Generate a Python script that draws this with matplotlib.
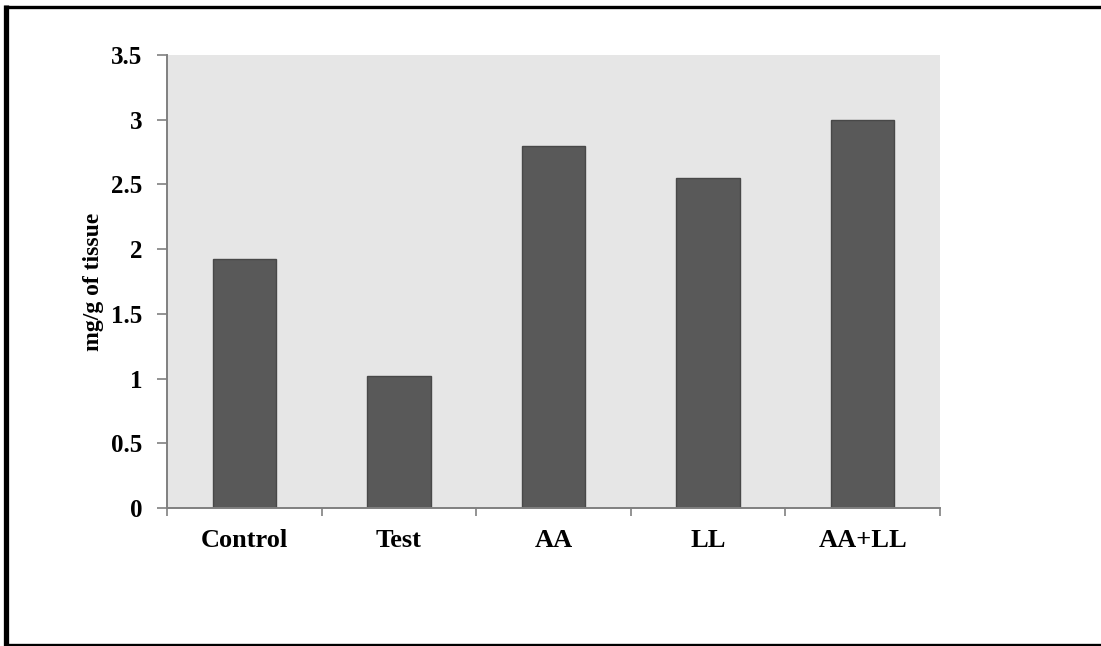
import numpy as np
import matplotlib.pyplot as plt
from matplotlib.lines import Line2D

groups = ["Control", "Test", "AA", "LL", "AA+LL"]
values = [1.92, 1.02, 2.80, 2.55, 3.00]
yticks = [0, 0.5, 1, 1.5, 2, 2.5, 3, 3.5]
ytick_labels = ["0", "0.5", "1", "1.5", "2", "2.5", "3", "3.5"]

plt.rcParams["font.family"] = ["Liberation Serif", "DejaVu Serif"]
plt.rcParams["font.weight"] = "bold"

fig = plt.figure(figsize=(11.01, 6.46), dpi=100)
ax = fig.add_axes([0.1517, 0.2136, 0.7021, 0.7013])

x = np.arange(len(groups))
ax.bar(x, values, width=0.41, color="#595959", edgecolor="#484848", linewidth=1.0)

ax.set_facecolor("#e6e6e6")
ax.set_xlim(-0.5, len(groups) - 0.5)
ax.set_ylim(0, 3.5)

# category boundaries carry the tick marks, labels sit at the centres
ax.set_xticks(np.arange(len(groups) + 1) - 0.5)
ax.set_xticklabels([])
ax.set_xticks(x, minor=True)
ax.set_xticklabels(groups, minor=True, fontsize=19, fontweight="bold")
ax.tick_params(axis="x", which="minor", length=0, pad=15)
ax.tick_params(axis="x", which="major", length=6, width=1.2, color="#808080")

ax.set_yticks(yticks)
ax.set_yticklabels(ytick_labels, fontsize=18, fontweight="bold")
ax.tick_params(axis="y", length=7, width=1.2, color="#808080", pad=11)

for side in ("top", "right"):
    ax.spines[side].set_visible(False)
for side in ("left", "bottom"):
    ax.spines[side].set_color("#808080")
    ax.spines[side].set_linewidth(1.4)

ax.set_ylabel("mg/g of tissue", fontsize=17, fontweight="bold", labelpad=5)

# outer frame (left, top, bottom)
W, H = 1101, 646
fig.add_artist(Line2D([6.5 / W, 6.5 / W], [0, 1 - 5 / H], transform=fig.transFigure,
                      color="black", lw=3.8, solid_capstyle="butt"))
fig.add_artist(Line2D([4 / W, 1], [1 - 7 / H, 1 - 7 / H], transform=fig.transFigure,
                      color="black", lw=2.4, solid_capstyle="butt"))
fig.add_artist(Line2D([4 / W, 1], [1.5 / H, 1.5 / H], transform=fig.transFigure,
                      color="black", lw=2.4, solid_capstyle="butt"))

fig.savefig("out.png", dpi=100)
